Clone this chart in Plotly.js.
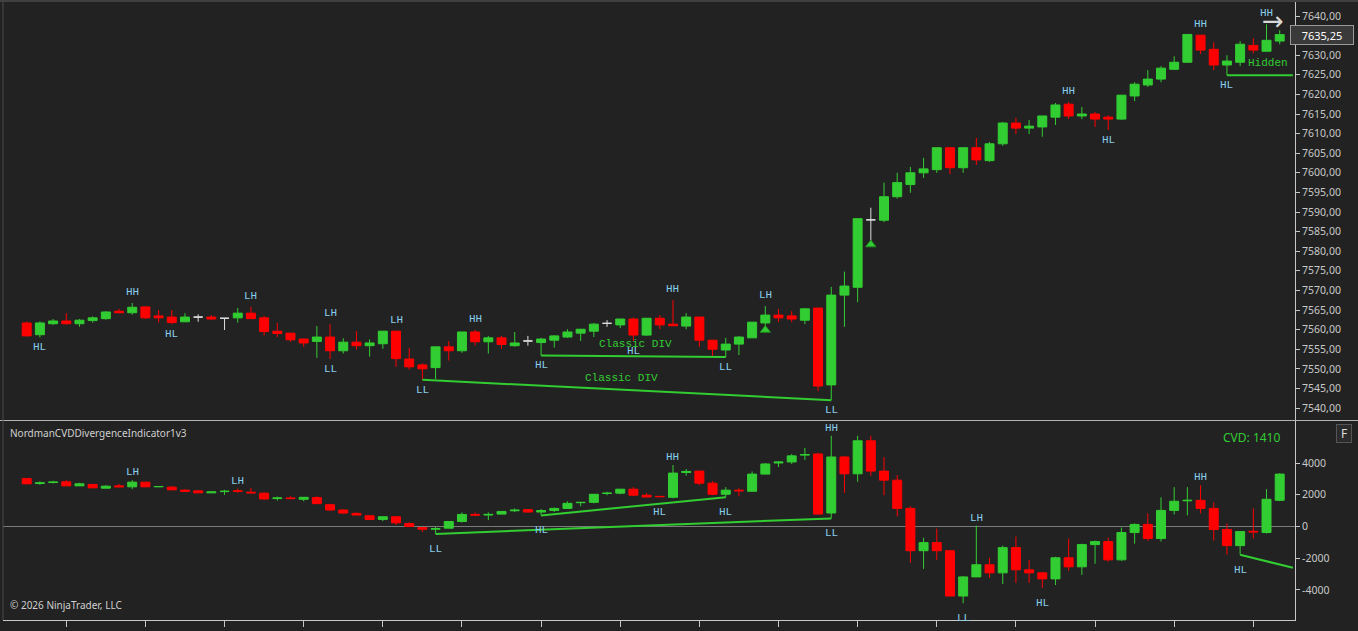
<!DOCTYPE html>
<html><head><meta charset="utf-8">
<script src="https://cdn.plot.ly/plotly-3.0.1.min.js"></script>
<style>html,body{margin:0;padding:0;background:#222222;overflow:hidden}#chart{width:1358px;height:631px}</style>
</head><body><div id="chart"></div>
<script>
// ---------- price bars (index 0..95) ----------
const priceOpen = [
7561.7,7558.7,7561.5,7562.2,7561.5,7562.3,7562.8,7564.7,7564.3,7565.8,
7563.5,7563.2,7562.0,7563.2,7563.2,7562.9,7563.0,7564.2,7563.0,7559.6,
7559.1,7557.6,7557.0,7558.1,7554.6,7556.8,7555.9,7556.4,7559.6,7552.5,
7551.0,7550.3,7555.6,7554.6,7559.4,7556.9,7557.9,7555.9,7557.1,7556.7,
7557.3,7558.1,7559.1,7559.6,7561.6,7561.2,7562.7,7558.6,7562.9,7561.4,
7560.9,7563.2,7557.3,7554.8,7556.3,7557.9,7561.7,7563.7,7563.5,7562.4,
7565.5,7545.9,7568.8,7570.8,7588.0,7587.9,7593.9,7597.0,7600.0,7600.8,
7606.4,7601.3,7606.4,7603.1,7607.4,7612.7,7611.4,7611.7,7614.2,7617.5,
7614.5,7615.0,7614.2,7613.7,7619.6,7622.4,7623.9,7626.4,7628.2,7635.1,
7631.5,7627.5,7628.2,7632.5,7631.0,7633.6];
const priceHigh = [
7562.1,7562.1,7562.7,7564.2,7562.7,7563.4,7564.7,7565.3,7566.8,7565.8,
7565.0,7565.0,7564.2,7563.9,7563.7,7562.9,7565.5,7565.8,7563.5,7561.7,
7559.1,7557.6,7560.9,7561.4,7557.8,7559.6,7557.5,7559.6,7559.6,7555.3,
7551.4,7555.6,7557.1,7559.4,7559.9,7558.4,7558.4,7559.4,7558.4,7557.9,
7558.6,7560.1,7560.1,7561.7,7562.4,7562.7,7563.1,7562.9,7563.7,7567.5,
7564.2,7563.2,7557.3,7557.9,7558.4,7561.9,7566.0,7565.3,7564.7,7565.5,
7565.5,7570.9,7574.8,7588.3,7591.1,7597.5,7600.0,7601.5,7603.8,7606.4,
7606.4,7606.4,7608.9,7607.9,7613.0,7614.0,7613.5,7614.5,7617.8,7618.1,
7616.8,7615.5,7614.7,7619.8,7623.1,7626.2,7627.2,7629.7,7635.3,7635.1,
7633.3,7630.0,7633.6,7634.3,7637.9,7636.4];
const priceLow = [
7558.3,7558.0,7561.2,7561.3,7560.7,7561.8,7562.5,7564.2,7563.8,7562.7,
7561.8,7561.4,7562.0,7562.0,7562.5,7559.9,7561.8,7562.8,7558.5,7558.1,
7556.9,7555.6,7552.8,7552.5,7553.9,7554.9,7553.1,7555.1,7550.5,7549.8,
7547.2,7547.4,7552.1,7554.1,7555.9,7553.9,7555.1,7555.6,7555.9,7553.4,
7555.4,7557.9,7557.1,7558.1,7560.7,7560.4,7557.1,7558.4,7560.1,7561.0,
7560.1,7555.6,7553.3,7553.0,7553.5,7557.9,7559.9,7561.9,7561.9,7561.4,
7544.3,7542.0,7560.7,7567.0,7581.7,7587.4,7593.4,7594.9,7598.7,7600.0,
7599.7,7600.0,7602.0,7602.8,7606.9,7609.9,7609.9,7609.2,7612.2,7613.7,
7613.7,7611.7,7610.9,7613.5,7618.3,7621.9,7623.1,7626.2,7628.0,7630.3,
7626.2,7624.9,7627.2,7630.5,7631.0,7632.8];
const priceClose = [
7558.4,7561.7,7562.2,7561.5,7562.4,7563.0,7564.5,7564.3,7565.7,7563.0,
7563.0,7561.8,7563.2,7563.2,7562.7,7562.9,7564.2,7562.8,7559.5,7559.0,
7557.4,7556.6,7558.1,7554.6,7556.8,7555.9,7556.6,7559.6,7552.6,7550.5,
7550.0,7555.6,7554.6,7559.4,7556.9,7557.9,7556.2,7556.6,7557.1,7557.6,
7558.4,7559.4,7560.1,7561.4,7561.6,7562.7,7558.6,7562.9,7561.2,7561.0,
7563.2,7557.3,7555.0,7556.3,7558.1,7561.9,7563.7,7563.0,7562.7,7565.3,
7545.6,7568.8,7571.1,7588.3,7588.0,7593.9,7597.5,7600.0,7601.0,7606.4,
7601.3,7606.4,7603.3,7607.4,7612.7,7611.4,7611.9,7614.5,7617.3,7614.5,
7615.0,7613.7,7613.7,7619.8,7622.6,7623.9,7626.7,7628.2,7635.3,7631.3,
7627.5,7628.5,7632.8,7631.3,7633.8,7635.25];

// ---------- CVD bars ----------
const cvdOpen = [
3027,2710,2770,2815,2560,2650,2415,2560,2500,2795,
2500,2480,2290,2245,2120,2200,2245,2160,2100,1760,
1800,1715,1820,1375,1040,825,677,445,615,190,
-65,-170,-105,317,760,720,780,990,1060,910,
1010,1140,1500,1520,2080,2100,2350,1970,1900,1840,
3400,3490,2730,2030,2290,2220,3300,4000,4065,4500,
4570,850,4380,3320,5400,3490,2920,1140,-1525,-1015,
-1525,-4380,-3175,-2410,-2920,-1330,-2730,-2920,-3300,-1970,
-2540,-1140,-950,-2100,-380,130,-760,1015,1620,1650,
1140,-190,-1205,-300,-380,1650];
const cvdHigh = [
3027,2840,2880,2920,2750,2650,2600,2690,2920,2795,
2520,2560,2350,2245,2180,2310,2390,2435,2160,1885,
1905,1840,1905,1440,1080,890,677,615,615,275,
-65,-40,317,890,890,890,950,1140,1080,1100,
1200,1590,1520,2030,2180,2350,2480,2100,1900,3875,
3620,3490,2860,2480,2410,3470,4000,4130,4570,4950,
4640,5715,4445,5715,5715,4380,3240,1270,-700,-130,
-1525,-3110,60,-1970,-1205,-635,-2100,-2860,-1905,-760,
-1080,-890,-700,-65,190,825,1840,2480,2480,2600,
1525,190,-320,1140,2350,3365];
const cvdLow = [
2689,2625,2710,2560,2560,2435,2415,2500,2350,2500,
2500,2310,2180,2120,2120,1990,2120,2120,1670,1630,
1715,1590,1440,975,805,720,400,340,105,0,
-340,-466,-105,250,650,400,780,910,910,700,
910,1140,1270,1460,1970,2030,1905,1860,1880,1780,
3200,2600,1990,1840,1900,2220,3300,3750,3940,4190,
780,510,2115,2815,3200,1970,635,-2290,-2670,-2100,
-4380,-4830,-3175,-3240,-3620,-3555,-3555,-3875,-3685,-2795,
-3050,-2350,-2220,-2160,-1080,-890,-950,760,700,825,
-890,-1780,-1780,-760,-445,1590];
const cvdClose = [
2689,2750,2800,2560,2690,2435,2540,2500,2795,2500,
2520,2310,2220,2120,2180,2220,2220,2120,1735,1800,
1760,1840,1440,1040,845,720,445,615,230,0,
-170,-130,317,760,720,760,950,1030,910,1000,
1140,1460,1520,2030,2100,2350,1970,1860,1880,3365,
3470,2730,2030,2290,2250,3300,3940,4060,4450,4530,
780,4380,3320,5400,3490,2920,1140,-1525,-1015,-1525,
-4380,-3175,-2410,-2920,-1330,-2730,-2920,-3300,-1970,-2540,
-1140,-950,-2100,-380,130,-760,1015,1590,1650,1140,
-190,-1205,-320,-340,1715,3300];

// ---------- axes ----------
const priceTickVals = [7540,7545,7550,7555,7560,7565,7570,7575,7580,7585,7590,7595,7600,7605,7610,7615,7620,7625,7630,7635,7640];
const priceTickText = ['7540,00','7545,00','7550,00','7555,00','7560,00','7565,00','7570,00','7575,00','7580,00','7585,00','7590,00','7595,00','7600,00','7605,00','7610,00','7615,00','7620,00','7625,00','7630,00','7635,00','7640,00'];
const cvdTickVals = [-4000,-2000,0,2000,4000];
const cvdTickText = ['-4000','-2000','0','2000','4000'];
const timeTickIdx = [3,9,15,21,27,33,39,45,51,57,63,69,75,81,87,93];

// ---------- swing labels ----------
const priceLabelIdx  = [1,8,11,17,23,23,28,30,34,39,46,49,53,56,61,79,82,89,91,94];
const priceLabelText = ['HL','HH','HL','LH','LH','LL','LH','LL','HH','HL','HL','HH','LL','LH','LL','HH','HL','HH','HL','HH'];
const priceLabelSide = ['b','a','b','a','a','b','a','b','a','b','b','a','b','a','b','a','b','a','b','a'];
const cvdLabelIdx  = [8,16,31,39,48,49,53,61,61,72,71,77,89,92];
const cvdLabelText = ['LH','LH','LL','HL','HL','HH','HL','HH','LL','LH','LL','HL','HH','HL'];
const cvdLabelSide = ['a','a','b','b','b','a','b','a','b','a','b','b','a','b'];

// ---------- divergences ----------
const priceDivFrom = [30,39,91];
const priceDivTo   = [61,53,96];
const priceDivText = ['Classic DIV','Classic DIV','Hidden'];
const priceHiddenEnd = [7624.9];
const cvdDivFrom = [31,39,92];
const cvdDivTo   = [61,53,96];
const cvdHiddenEnd = [-2600];
const signalIdx = [56,64];
const lastPrice = [7635.25];
const cvdTitle = ['CVD: 1410'];

const G = '#32CD32', R = '#FF0000', W = '#DCDCDC', LBL = '#87CEEB';
const N = priceOpen.length;
const all = priceOpen.map((_, i) => i);

function candle(ids, o, h, l, c, yax, up, dn) {
  return {type:'candlestick', x:ids, open:ids.map(i=>o[i]), high:ids.map(i=>h[i]),
    low:ids.map(i=>l[i]), close:ids.map(i=>c[i]), xaxis:'x', yaxis:yax, whiskerwidth:0,
    increasing:{line:{color:up,width:1},fillcolor:up}, decreasing:{line:{color:dn,width:1},fillcolor:dn},
    hoverinfo:'skip', showlegend:false};
}
const pDoji = all.filter(i => priceOpen[i] === priceClose[i]);
const pReg = all.filter(i => priceOpen[i] !== priceClose[i]);
const traces = [
  candle(pReg, priceOpen, priceHigh, priceLow, priceClose, 'y', G, R),
  candle(pDoji, priceOpen, priceHigh, priceLow, priceClose, 'y', W, W),
  candle(all, cvdOpen, cvdHigh, cvdLow, cvdClose, 'y2', G, R)
];

const ann = [];
const divTextXShift = [-5, 2, 8];
function divLines(from, to, low, endVal, yax, texts) {
  from.forEach((a, k) => {
    const b = to[k];
    const ya = low[a];
    const yb = b < N ? low[b] : endVal;
    traces.push({type:'scatter', mode:'lines', x:[a,b], y:[ya,yb], xaxis:'x', yaxis:yax,
      line:{color:G,width:2}, hoverinfo:'skip', showlegend:false});
    if (texts) ann.push({x:(a+b)/2, y:(ya+yb)/2, xref:'x', yref:yax, text:texts[k], showarrow:false,
      yshift:12, xshift:divTextXShift[k], font:{family:'Liberation Mono, DejaVu Sans Mono, monospace', size:11, color:G}});
  });
}
divLines(priceDivFrom, priceDivTo, priceLow, priceHiddenEnd[0], 'y', priceDivText);
divLines(cvdDivFrom, cvdDivTo, cvdLow, cvdHiddenEnd[0], 'y2', null);

traces.push({type:'scatter', mode:'markers', x:signalIdx, y:signalIdx.map(i=>priceLow[i]), xaxis:'x', yaxis:'y',
  marker:{symbol:'triangle-up', size:9, color:G, line:{color:'#1f8f1f',width:1}}, hoverinfo:'skip', showlegend:false});

const lblFont = {family:'Liberation Mono, DejaVu Sans Mono, monospace', size:11, color:LBL};
priceLabelIdx.forEach((i, k) => {
  const above = priceLabelSide[k] === 'a';
  ann.push({x:i, y: above ? priceHigh[i] : priceLow[i], xref:'x', yref:'y', text:priceLabelText[k],
    showarrow:false, yshift: above ? 11 : -10, font:lblFont});
});
cvdLabelIdx.forEach((i, k) => {
  const above = cvdLabelSide[k] === 'a';
  ann.push({x:i, y: above ? cvdHigh[i] : cvdLow[i], xref:'x', yref:'y2', text:cvdLabelText[k],
    showarrow:false, yshift: above ? 8 : -15, font:lblFont});
});
// chart-trader arrow near the last swing high
ann.push({x:94, y:priceHigh[94], xref:'x', yref:'y', text:'→', showarrow:false, xshift:6, yshift:3,
  font:{family:'DejaVu Sans', size:26, color:'#d8d8d8'}});
// last price marker
ann.push({x:0.9961, xref:'paper', xanchor:'left', y:lastPrice[0], yref:'y', yanchor:'middle',
  text:lastPrice[0].toFixed(2).replace('.', ','), showarrow:false, bgcolor:'#3a3a3a', bordercolor:'#9a9a9a',
  borderwidth:1, borderpad:2, width:58, height:14, font:{family:'Noto Sans', size:11, color:'#ffffff'}});
ann.push({x:0, xref:'paper', xanchor:'left', xshift:5, y:0.3026, yref:'paper', yanchor:'middle',
  text:'NordmanCVDDivergenceIndicator1v3', showarrow:false, font:{family:'Noto Sans', size:10, color:'#cfcfcf'}});
ann.push({x:0.9899, xref:'paper', xanchor:'right', y:0.2945, yref:'paper', yanchor:'middle',
  text:cvdTitle[0], showarrow:false, font:{family:'Noto Sans', size:12, color:G}});
ann.push({x:0, xref:'paper', xanchor:'left', xshift:5, y:0.0243, yref:'paper', yanchor:'middle',
  text:'© 2026 NinjaTrader, LLC', showarrow:false, font:{family:'Noto Sans', size:10, color:'#cfcfcf'}});
ann.push({x:1.0383, xref:'paper', xanchor:'center', y:0.301, yref:'paper', yanchor:'middle',
  text:'F', showarrow:false, bgcolor:'#2b2b2b', bordercolor:'#555555', borderwidth:1, width:12, height:15,
  font:{family:'Noto Sans', size:12, color:'#dddddd'}});

const axFont = {family:'Noto Sans', size:10.5, color:'#c8c8c8'};
const layout = {
  width:1358, height:631, autosize:false,
  margin:{l:3, r:63, t:2, b:11},
  paper_bgcolor:'#222222', plot_bgcolor:'#222222',
  showlegend:false, hovermode:false, dragmode:false,
  boxgap:0.15, boxgroupgap:0.2,
  xaxis:{range:[-1.797, 96.16], anchor:'y2', showgrid:false, zeroline:false,
    rangeslider:{visible:false}, tickvals:timeTickIdx, ticks:'outside', ticklen:6, tickcolor:'#c8c8c8',
    showticklabels:false, showline:true, linecolor:'#c8c8c8', linewidth:1},
  yaxis:{domain:[0.3236, 1], range:[7536.94, 7643.57], side:'right', anchor:'x', showgrid:false, zeroline:false,
    tickvals:priceTickVals, ticktext:priceTickText, ticks:'outside', ticklen:4, tickcolor:'#c8c8c8',
    tickfont:axFont, showline:true, linecolor:'#c8c8c8', linewidth:1},
  yaxis2:{domain:[0, 0.322], range:[-5890, 6646], side:'right', anchor:'x', showgrid:false,
    zeroline:true, zerolinecolor:'#7a7a7a', zerolinewidth:1,
    tickvals:cvdTickVals, ticktext:cvdTickText, ticks:'outside', ticklen:4, tickcolor:'#c8c8c8',
    tickfont:axFont, showline:true, linecolor:'#c8c8c8', linewidth:1},
  shapes:[
    {type:'line', xref:'paper', yref:'paper', x0:-0.0023, x1:1.0488, y0:1.0016, y1:1.0016, line:{color:'#5e5e5e', width:1}},
    {type:'line', xref:'paper', yref:'paper', x0:-0.0023, x1:1.0488, y0:0.3228, y1:0.3228, line:{color:'#b4b4b4', width:1}},
    {type:'line', xref:'paper', yref:'paper', x0:0, x1:0, y0:0, y1:1.0016, line:{color:'#4a4a4a', width:1}}
  ],
  annotations:ann
};
Plotly.newPlot('chart', traces, layout, {staticPlot:true, displayModeBar:false});
</script>
</body></html>
